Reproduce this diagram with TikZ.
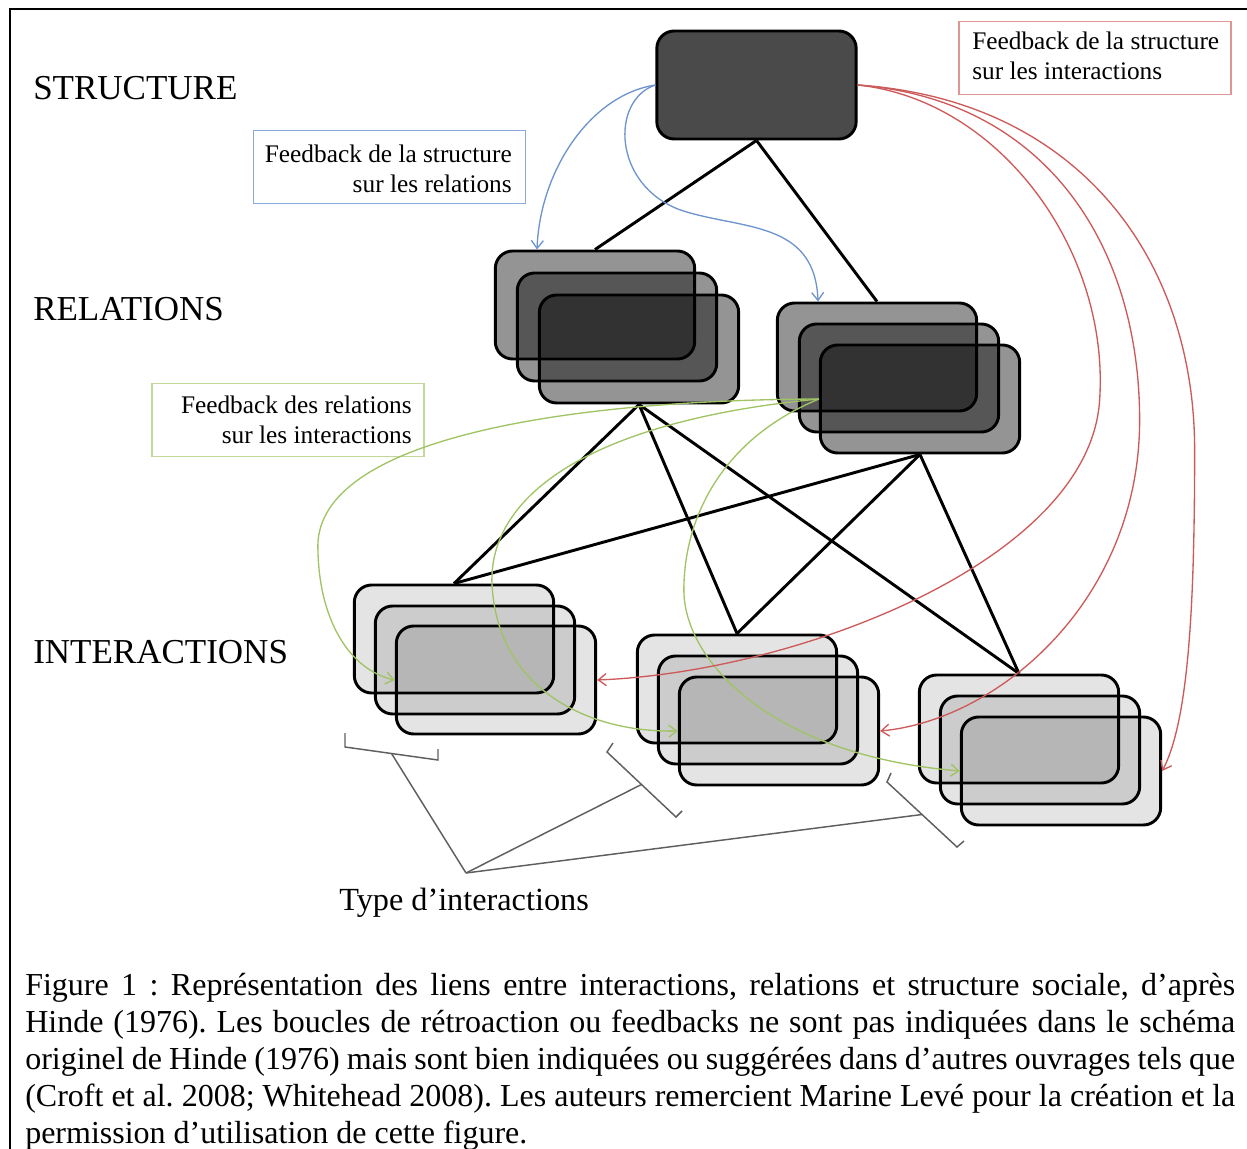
\documentclass[tikz,border=0pt]{standalone}
\usepackage{fontspec}
\setmainfont{Liberation Serif}
\usetikzlibrary{arrows.meta,calc}
\definecolor{fbblueline}{RGB}{110,148,205}
\definecolor{fbbluebox}{RGB}{140,170,215}
\definecolor{fbgreenline}{RGB}{160,195,100}
\definecolor{fbgreenbox}{RGB}{195,215,155}
\definecolor{fbredline}{RGB}{205,90,90}
\definecolor{fbredbox}{RGB}{225,150,150}
\definecolor{structfill}{RGB}{74,74,74}
\definecolor{bracketgray}{RGB}{95,95,95}
\frenchspacing
\begin{document}
\begin{tikzpicture}[x=0.75pt,y=-0.75pt,
  box/.style={draw=black, line width=2.2pt, rounded corners=13pt,
    minimum width=149.5pt, minimum height=81pt, inner sep=0pt},
  relbox/.style={box, fill=black, fill opacity=0.42},
  intbox/.style={box, fill=black, fill opacity=0.105},
  structbox/.style={box, fill=structfill},
  link/.style={line width=2.2pt, black},
  fbarrow/.style={line width=1pt, -{Straight Barb[length=6pt,width=9pt]}},
  fbbox/.style={draw, line width=1.1pt, minimum width=204pt, minimum height=55pt, inner sep=0pt},
  fbtext/.style={inner sep=0pt, font=\fontsize{19pt}{22pt}\selectfont},
  levellabel/.style={inner sep=0pt, anchor=base west, font=\fontsize{26.25pt}{30pt}\selectfont},
  bracket/.style={line width=1.1pt, bracketgray}]
\useasboundingbox (0,0) rectangle (1247,1149);

% frame
\draw[line width=2pt] (10,1149) |- (1247,9);

% level labels
\node[levellabel] (lstruct) at (33,100) {STRUCTURE};
\node[levellabel] (lrel) at (33,320) {RELATIONS};
\node[levellabel] (lint) at (33,663) {INTERACTIONS};

% feedback label boxes
\node[fbbox, draw=fbbluebox] (fbb) at (389.5,167) {};
\node[fbtext, anchor=base east] (fbb1) at (512,162) {Feedback de la structure};
\node[fbtext, anchor=base east] (fbb2) at (512,192) {sur les relations};
\node[fbbox, draw=fbgreenbox] (fbg) at (288,420) {};
\node[fbtext, anchor=base east] (fbg1) at (412,413) {Feedback des relations};
\node[fbtext, anchor=base east] (fbg2) at (412,443) {sur les interactions};
\node[fbbox, draw=fbredbox] (fbr) at (1095,58) {};
\node[fbtext, anchor=base west] (fbr1) at (972,50) {Feedback de la structure};
\node[fbtext, anchor=base west] (fbr2) at (972,80) {sur les interactions};

% structure
\node[structbox] (struct) at (756.5,85) {};

% relations
\node[relbox] (rl1) at (595,305) {};
\node[relbox] (rl2) at (617,327) {};
\node[relbox] (rl3) at (639,349) {};
\node[relbox] (rr1) at (877,357) {};
\node[relbox] (rr2) at (899,378) {};
\node[relbox] (rr3) at (920,399) {};

% interactions
\node[intbox] (il1) at (454,639) {};
\node[intbox] (il2) at (475,660) {};
\node[intbox] (il3) at (496,680) {};
\node[intbox] (im1) at (737,689) {};
\node[intbox] (im2) at (758,710) {};
\node[intbox] (im3) at (779,731) {};
\node[intbox] (ir1) at (1019,729) {};
\node[intbox] (ir2) at (1040,750) {};
\node[intbox] (ir3) at (1061,771) {};

% hierarchy links
\draw[link] (struct.south) -- (rl1.north);
\draw[link] (struct.south) -- (rr1.north);
\foreach \r in {rl3,rr3}{
  \foreach \i in {il1,im1,ir1}{
    \draw[link] (\r.south) -- (\i.north);
  }
}

% blue feedback: structure -> relations
\draw[fbarrow, fbblueline] (struct.west) .. controls +(-65,10) and +(3,-79) .. ([xshift=-43.5pt]rl1.north);
\draw[fbarrow, fbblueline] (struct.west) .. controls +(-45,15) and +(-68,-25) .. ++(25,125)
  .. controls +(60,20) and +(-3,-82) .. ([xshift=-44.25pt]rr1.north);

% green feedback: relations -> interactions
\draw[fbarrow, fbgreenline] (rr3.west) .. controls +(-259,1) and +(2,-105) .. ++(-501,146)
  .. controls +(0,75) and +(-45,-10) .. (il3.west);
\draw[fbarrow, fbgreenline] (rr3.west) .. controls +(-219,21) and +(0,-90) .. ++(-327,181)
  .. controls +(3,110) and +(-88,2) .. (im3.west);
\draw[fbarrow, fbgreenline] (rr3.west) .. controls +(-99,41) and +(0,-70) .. ++(-135,191)
  .. controls +(0,70) and +(-190,-16) .. (ir3.west);

% red feedback: structure -> interactions
\draw[fbarrow, fbredline] (struct.east) .. controls +(142,15) and +(10,-150) .. ++(242,315)
  .. controls +(-10,160) and +(202,-8) .. (il3.east);
\draw[fbarrow, fbredline] (struct.east) .. controls +(192,15) and +(0,-170) .. ++(282,335)
  .. controls +(0,180) and +(119,-11) .. (im3.east);
\draw[fbarrow, fbredline] (struct.east) .. controls +(222,15) and +(0,-190) .. ++(337,365)
  .. controls +(0,150) and +(27,-51) .. (ir3.east);

% brackets
\coordinate (hub) at (466,873);
\coordinate (b1) at (391.5,753.5);
\coordinate (b2) at (641.5,784.5);
\coordinate (b3) at (922,814.5);
\draw[bracket] (345,733) -- (345,747) -- (438,760) -- (438,749);
\draw[bracket] (613,743) -- (607,752) -- (676,817) -- (682,811);
\draw[bracket] (891,773) -- (887,782) -- (957,847) -- (964,841);
\draw[bracket] (b1) -- (hub);
\draw[bracket] (b2) -- (hub);
\draw[bracket] (b3) -- (hub);
\node[anchor=base west, inner sep=0pt, font=\fontsize{24.2pt}{28pt}\selectfont] (typelbl) at (339,910) {Type d’interactions};

% caption
\node[anchor=north west, inner sep=0pt, text width=907.5pt, align=justify,
  font=\fontsize{24pt}{27.75pt}\selectfont] (caption) at (25,969)
  {\strut Figure 1 : Représentation des liens entre interactions, relations et structure sociale, d’après\linebreak
  Hinde (1976). Les boucles de rétroaction ou feedbacks ne sont pas indiquées dans le schéma\linebreak
  originel de Hinde (1976) mais sont bien indiquées ou suggérées dans d’autres ouvrages tels que\linebreak
  (Croft et al. 2008; Whitehead 2008). Les auteurs remercient Marine Levé pour la création et la\linebreak
  permission d’utilisation de cette figure.};
\end{tikzpicture}
\end{document}
